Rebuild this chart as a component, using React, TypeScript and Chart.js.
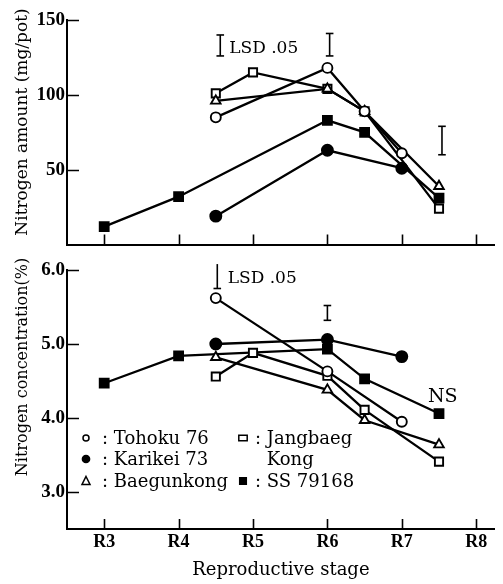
import React, { useEffect, useRef } from 'react';
import { Chart, registerables } from 'chart.js';

Chart.register(...registerables);

// ---- data ----
const stageValues = [3, 4, 5, 6, 7, 8];
const stageLabels = ['R3', 'R4', 'R5', 'R6', 'R7', 'R8'];

const seriesNames = ['Tohoku 76', 'Karikei 73', 'Baegunkong', 'Jangbaeg Kong', 'SS 79168'];

// Nitrogen amount (mg/pot)
const tohokuAmtX = [4.5, 6, 6.5, 7];
const tohokuAmtY = [85, 118, 89, 61];
const karikeiAmtX = [4.5, 6, 7];
const karikeiAmtY = [19, 63, 51];
const baegunAmtX = [4.5, 6, 6.5, 7.5];
const baegunAmtY = [96, 104, 89, 39];
const jangbaegAmtX = [4.5, 5, 6, 6.5, 7.5];
const jangbaegAmtY = [101, 115, 104, 89, 24];
const ssAmtX = [3, 4, 6, 6.5, 7.5];
const ssAmtY = [12, 32, 83, 75, 31];

// Nitrogen concentration (%)
const tohokuConcX = [4.5, 6, 7];
const tohokuConcY = [5.62, 4.63, 3.95];
const karikeiConcX = [4.5, 6, 7];
const karikeiConcY = [5.0, 5.06, 4.83];
const baegunConcX = [4.5, 6, 6.5, 7.5];
const baegunConcY = [4.82, 4.38, 3.97, 3.64];
const jangbaegConcX = [4.5, 5, 6, 6.5, 7.5];
const jangbaegConcY = [4.56, 4.88, 4.57, 4.11, 3.41];
const ssConcX = [3, 4, 6, 6.5, 7.5];
const ssConcY = [4.47, 4.84, 4.93, 4.53, 4.06];

const amtTicks = [50, 100, 150];
const amtTickLabels = ['50', '100', '150'];
const concTicks = [3, 4, 5, 6];
const concTickLabels = ['3.0', '4.0', '5.0', '6.0'];

// LSD bars
const amtLsdX = [4.56, 6.03, 7.54];
const amtLsdLow = [126, 126, 60];
const amtLsdHigh = [140, 141, 79];
const concLsdX = [4.52, 6.0];
const concLsdLow = [5.75, 5.32];
const concLsdHigh = [6.08, 5.52];

// annotation texts
const amtNotes = ['LSD .05'];
const amtNoteX = [4.68];
const amtNoteY = [131];
const concNotes = ['LSD .05', 'NS'];
const concNoteX = [4.66, 7.55];
const concNoteY = [5.89, 4.28];

const yTitleAmt = 'Nitrogen amount (mg/pot)';
const yTitleConc = 'Nitrogen concentration(%)';
const xTitle = 'Reproductive stage';

// ---- styles / layout ----
const SERIF = "'DejaVu Serif', serif";
const TICKFONT = "'Liberation Serif', serif";
const TOP_H = 258;
const BOT_TOP = 246;
const BOT_H = 584 - BOT_TOP;

const markerStyles = [
  { style: 'circle', fill: '#ffffff', r: 5 },
  { style: 'circle', fill: '#000000', r: 5.5 },
  { style: 'triangle', fill: '#ffffff', r: 5.5 },
  { style: 'rect', fill: '#ffffff', r: 5.8 },
  { style: 'rect', fill: '#000000', r: 6.3 },
];

const pts = (xs: number[], ys: number[]) => xs.map((x, i) => ({ x, y: ys[i] }));

function seriesDatasets(xsList: number[][], ysList: number[][]) {
  return xsList.map((xs, i) => ({
    label: seriesNames[i],
    data: pts(xs, ysList[i]),
    borderColor: '#000',
    borderWidth: 2.3,
    pointStyle: markerStyles[i].style,
    pointRadius: markerStyles[i].r,
    pointBackgroundColor: markerStyles[i].fill,
    pointBorderColor: '#000',
    pointBorderWidth: 1.9,
    tension: 0,
    fill: false,
  }));
}

function lsdDatasets(xs: number[], lo: number[], hi: number[]) {
  return xs.map((x, i) => ({
    label: 'LSD',
    data: [{ x, y: lo[i] }, { x, y: hi[i] }],
    borderColor: '#000',
    borderWidth: 1.6,
    pointStyle: 'line',
    pointRadius: 3.8,
    pointBorderWidth: 1.6,
    pointBorderColor: '#000',
    clip: false,
    fill: false,
  }));
}

function drawMarker(ctx: CanvasRenderingContext2D, style: string, x: number, y: number, w: number, h: number, filled: boolean) {
  ctx.beginPath();
  if (style === 'circle') {
    ctx.arc(x, y, w, 0, Math.PI * 2);
  } else if (style === 'triangle') {
    ctx.moveTo(x, y - h);
    ctx.lineTo(x + w, y + h * 0.75);
    ctx.lineTo(x - w, y + h * 0.75);
    ctx.closePath();
  } else {
    ctx.rect(x - w, y - h, 2 * w, 2 * h);
  }
  ctx.fillStyle = filled ? '#000' : '#fff';
  ctx.fill();
  ctx.lineWidth = 1.5;
  ctx.strokeStyle = '#000';
  ctx.stroke();
  ctx.fillStyle = '#000';
}

function makePlugin(opts: {
  yTitle: string; yTitleX: number; yTitleY: number; yTitleSize: number;
  notes: string[]; noteX: number[]; noteY: number[]; noteSizes: number[]; noteAlign: CanvasTextAlign[];
  legend: boolean; offsetY: number;
}) {
  return {
    id: 'extras',
    afterDraw(chart: any) {
      const ctx: CanvasRenderingContext2D = chart.ctx;
      const area = chart.chartArea;
      const xs = chart.scales.x;
      const ys = chart.scales.y;
      ctx.save();
      // inward ticks
      ctx.strokeStyle = '#000';
      ctx.lineWidth = 1.6;
      ctx.beginPath();
      xs.ticks.forEach((t: any) => {
        const px = Math.round(xs.getPixelForValue(t.value)) + 0.5;
        ctx.moveTo(px, area.bottom);
        ctx.lineTo(px, area.bottom - 10);
      });
      ys.ticks.forEach((t: any) => {
        const py = Math.round(ys.getPixelForValue(t.value)) + 0.5;
        ctx.moveTo(area.left, py);
        ctx.lineTo(area.left + 12, py);
      });
      ctx.stroke();

      // y title
      ctx.fillStyle = '#000';
      ctx.font = `${opts.yTitleSize}px ${SERIF}`;
      ctx.textAlign = 'center';
      ctx.textBaseline = 'middle';
      ctx.translate(opts.yTitleX, opts.yTitleY - opts.offsetY);
      ctx.rotate(-Math.PI / 2);
      ctx.fillText(opts.yTitle, 0, 0);
      ctx.setTransform(1, 0, 0, 1, 0, 0);

      // notes
      opts.notes.forEach((txt, i) => {
        ctx.fillStyle = '#000';
        ctx.font = `${opts.noteSizes[i]}px ${SERIF}`;
        ctx.textAlign = opts.noteAlign[i];
        ctx.textBaseline = 'middle';
        ctx.fillText(txt, xs.getPixelForValue(opts.noteX[i]), ys.getPixelForValue(opts.noteY[i]));
      });

      // legend
      if (opts.legend) {
        const o = opts.offsetY;
        const rowsY = [438 - o, 459 - o, 481 - o];
        const baseY = [444 - o, 465 - o, 487 - o];
        const c1 = area.left + 19;
        const t1 = area.left + 35;
        const c2 = area.left + 176;
        const t2 = area.left + 188;
        ctx.font = `18px ${SERIF}`;
        ctx.textAlign = 'left';
        ctx.textBaseline = 'alphabetic';
        // column 1: Tohoku, Karikei, Baegunkong
        drawMarker(ctx, 'circle', c1, rowsY[0], 3, 3, false);
        ctx.fillText(': ' + seriesNames[0], t1, baseY[0]);
        drawMarker(ctx, 'circle', c1, rowsY[1], 3.6, 3.6, true);
        ctx.fillText(': ' + seriesNames[1], t1, baseY[1]);
        drawMarker(ctx, 'triangle', c1, rowsY[2], 4, 4.5, false);
        ctx.fillText(': ' + seriesNames[2], t1, baseY[2]);
        // column 2: Jangbaeg Kong, SS 79168
        const jk = seriesNames[3].split(' ');
        drawMarker(ctx, 'rect', c2, rowsY[0], 4.2, 2.8, false);
        ctx.fillText(': ' + jk[0], t2, baseY[0]);
        const indent = ctx.measureText(': ').width;
        ctx.fillText(jk.slice(1).join(' '), t2 + indent, baseY[1]);
        drawMarker(ctx, 'rect', c2, rowsY[2], 3.3, 3.3, true);
        ctx.fillText(': ' + seriesNames[4], t2, baseY[2]);
      }
      ctx.restore();
    },
  };
}

function makeConfig(kind: 'amt' | 'conc'): any {
  const isAmt = kind === 'amt';
  const datasets = isAmt
    ? [
        ...seriesDatasets(
          [tohokuAmtX, karikeiAmtX, baegunAmtX, jangbaegAmtX, ssAmtX],
          [tohokuAmtY, karikeiAmtY, baegunAmtY, jangbaegAmtY, ssAmtY]
        ),
        ...lsdDatasets(amtLsdX, amtLsdLow, amtLsdHigh),
      ]
    : [
        ...seriesDatasets(
          [tohokuConcX, karikeiConcX, baegunConcX, jangbaegConcX, ssConcX],
          [tohokuConcY, karikeiConcY, baegunConcY, jangbaegConcY, ssConcY]
        ),
        ...lsdDatasets(concLsdX, concLsdLow, concLsdHigh),
      ];
  const yTickVals = isAmt ? amtTicks : concTicks;
  const yTickLabs = isAmt ? amtTickLabels : concTickLabels;
  const plugin = isAmt
    ? makePlugin({
        yTitle: yTitleAmt, yTitleX: 23, yTitleY: 122, yTitleSize: 17,
        notes: amtNotes, noteX: amtNoteX, noteY: amtNoteY, noteSizes: [17], noteAlign: ['left'],
        legend: false, offsetY: 0,
      })
    : makePlugin({
        yTitle: yTitleConc, yTitleX: 23, yTitleY: 367, yTitleSize: 16,
        notes: concNotes, noteX: concNoteX, noteY: concNoteY, noteSizes: [17, 19], noteAlign: ['left', 'center'],
        legend: true, offsetY: BOT_TOP,
      });

  return {
    type: 'line',
    data: { datasets },
    plugins: [plugin],
    options: {
      animation: false,
      responsive: false,
      events: [],
      layout: { padding: { top: isAmt ? 20 : 270 - BOT_TOP, right: 3, left: 0, bottom: 0 } },
      plugins: { legend: { display: false }, tooltip: { enabled: false }, title: { display: false } },
      scales: {
        x: {
          type: 'linear',
          min: 2.5,
          max: 8.25,
          afterBuildTicks: (s: any) => { s.ticks = stageValues.map((v) => ({ value: v })); },
          afterFit: (s: any) => { s.height = isAmt ? TOP_H - 247 : 584 - 529; },
          grid: { display: false, drawTicks: false },
          border: { display: true, color: '#000', width: 2 },
          ticks: {
            display: !isAmt,
            autoSkip: false,
            maxRotation: 0,
            padding: 3,
            color: '#000',
            font: { family: TICKFONT, size: 18, weight: 'bold' },
            callback: (v: number) => {
              const i = stageValues.indexOf(v);
              return i >= 0 ? stageLabels[i] : '';
            },
          },
          title: {
            display: !isAmt,
            text: xTitle,
            color: '#000',
            font: { family: SERIF, size: 18 },
            padding: { top: 0, bottom: 3 },
          },
        },
        y: {
          type: 'linear',
          min: isAmt ? 0 : 2.5,
          max: isAmt ? 150 : 6.0,
          afterBuildTicks: (s: any) => { s.ticks = yTickVals.map((v) => ({ value: v })); },
          afterFit: (s: any) => { s.width = 67; },
          grid: { display: false, drawTicks: false },
          border: { display: true, color: '#000', width: 2 },
          ticks: {
            padding: 2,
            color: '#000',
            font: { family: TICKFONT, size: 19, weight: 'bold' },
            callback: (v: number) => {
              const i = yTickVals.indexOf(v);
              return i >= 0 ? yTickLabs[i] : '';
            },
          },
        },
      },
    },
  };
}

export default function App() {
  const topRef = useRef<HTMLCanvasElement>(null);
  const botRef = useRef<HTMLCanvasElement>(null);
  useEffect(() => {
    const c1 = new Chart(topRef.current as HTMLCanvasElement, makeConfig('amt'));
    const c2 = new Chart(botRef.current as HTMLCanvasElement, makeConfig('conc'));
    return () => {
      c1.destroy();
      c2.destroy();
    };
  }, []);
  return (
    <div style={{ position: 'fixed', left: 0, top: 0, width: 503, height: 584, background: '#fff' }}>
      <canvas ref={topRef} width={503} height={TOP_H} style={{ position: 'absolute', left: 0, top: 0 }} />
      <canvas ref={botRef} width={503} height={BOT_H} style={{ position: 'absolute', left: 0, top: BOT_TOP }} />
    </div>
  );
}
